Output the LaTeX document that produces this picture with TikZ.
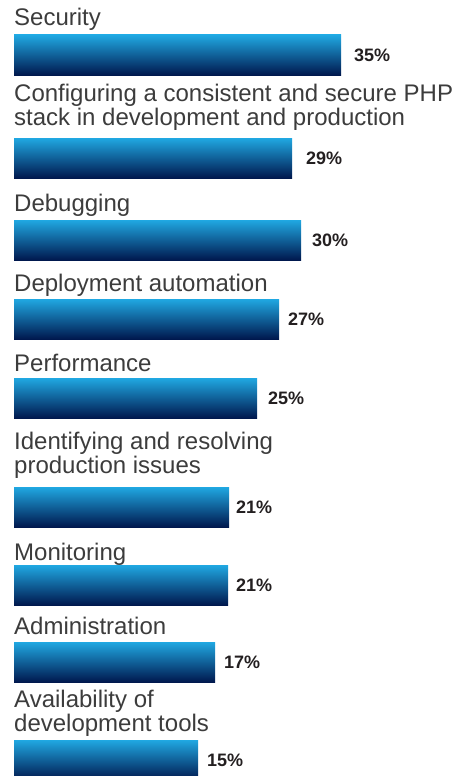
\documentclass[tikz,border=0pt]{standalone}
\usepackage{fontspec}
\setmainfont{Liberation Sans}
\usepackage{xcolor}
\definecolor{barTop}{RGB}{32,168,226}
\definecolor{barMid}{RGB}{0,112,183}
\definecolor{barBot}{RGB}{0,24,78}
\definecolor{lblGray}{RGB}{60,60,60}
\definecolor{pctDark}{RGB}{35,31,32}

\begin{document}
\begin{tikzpicture}[x=1pt,y=-1pt,
  lbl/.style={anchor=base west, inner sep=0pt, align=left, text=lblGray,
    font=\fontsize{24}{19.5}\selectfont},
  pct/.style={anchor=west, inner sep=0pt, text=pctDark,
    font=\fontsize{18}{18}\selectfont\bfseries},
  bar/.style={top color=barTop, middle color=barMid, bottom color=barBot}]
  \useasboundingbox (0,0) rectangle (458,776);
  \clip (0,0) rectangle (458,776);

  % category labels (base = last line)
  \foreach \i/\yl/\txt in {1/26/{Security},
      2/125/{Configuring a consistent and secure PHP\\stack in development and production},
      3/211/{Debugging}, 4/291/{Deployment automation}, 5/371/{Performance},
      6/473/{Identifying and resolving\\production issues},
      7/560/{Monitoring}, 8/634/{Administration},
      9/731/{Availability of\\development tools}}
    \node[lbl] (lbl\i) at (14,\yl) {\txt};

  % bars and values
  \foreach \i/\yt/\xr/\xp/\pc in {1/35/341/354/35, 2/138/292/306/29, 3/220/301/312/30,
      4/299/279/288/27, 5/378/257/268/25, 6/487/229/236/21, 7/565/228/236/21,
      8/642/215/224/17, 9/740/198/207/15} {
    \shade[bar] (14,\yt) rectangle (\xr,\yt+40);
    \node[pct] (pct\i) at (\xp,\yt+20) {\pc\%};
  }
\end{tikzpicture}
\end{document}
